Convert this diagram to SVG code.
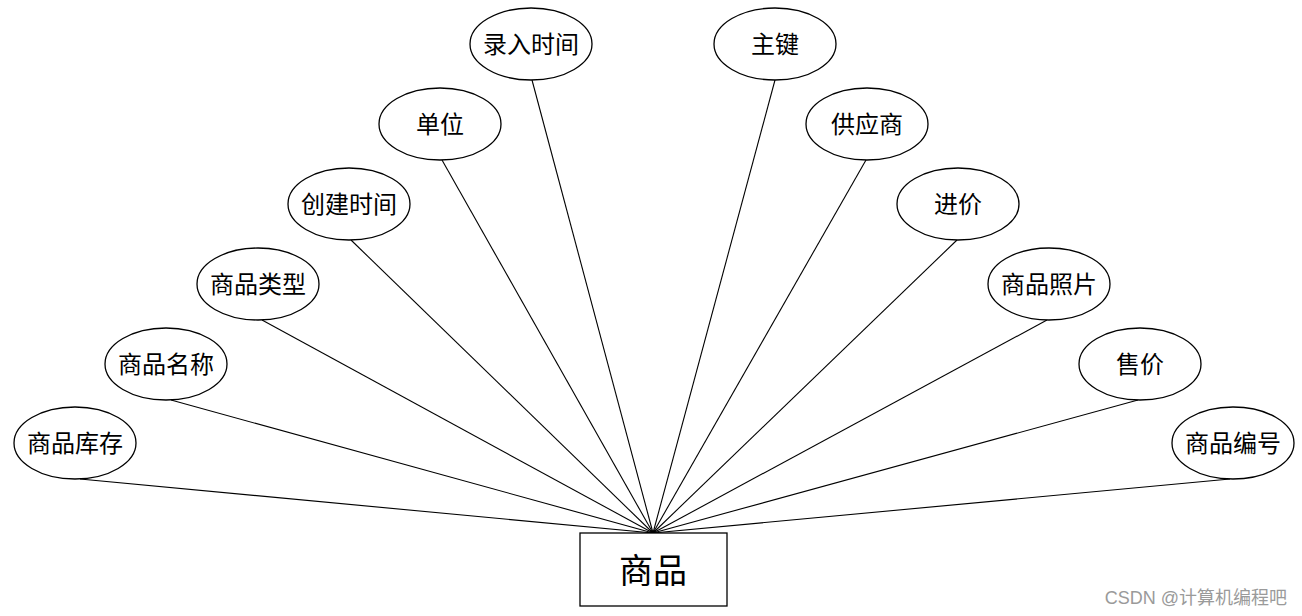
<svg xmlns="http://www.w3.org/2000/svg" width="1302" height="616" viewBox="0 0 1302 616">
<style>
.attr ellipse{fill:#fff;stroke:#000;stroke-width:1.3}
.attr text{font-family:"Liberation Sans","Noto Sans CJK SC",sans-serif;font-size:24px;fill:#000;text-anchor:middle;dominant-baseline:central}
#connectors line{stroke:#000;stroke-width:1.1}
.ent rect{fill:#fff;stroke:#000;stroke-width:1.3}
.ent text{font-family:"Liberation Sans","Noto Sans CJK SC",sans-serif;font-size:34px;fill:#000;text-anchor:middle;dominant-baseline:central}
.wm{font-family:"Liberation Sans","Noto Sans CJK SC",sans-serif;font-size:18px;fill:#9a9a9a;text-anchor:end}
</style>
<rect width="1302" height="616" fill="#fff"/>
<g id="connectors">
<line x1="80" y1="479" x2="653" y2="533"/>
<line x1="171" y1="400" x2="653" y2="533"/>
<line x1="262" y1="320" x2="653" y2="533"/>
<line x1="351" y1="240" x2="653" y2="533"/>
<line x1="442" y1="160" x2="653" y2="533"/>
<line x1="532" y1="80" x2="653" y2="533"/>
<line x1="775" y1="80" x2="653" y2="533"/>
<line x1="866" y1="160" x2="653" y2="533"/>
<line x1="957" y1="240" x2="653" y2="533"/>
<line x1="1047" y1="320" x2="653" y2="533"/>
<line x1="1138" y1="400" x2="653" y2="533"/>
<line x1="1230" y1="479" x2="653" y2="533"/>
</g>
<g id="n-kucun" class="attr"><ellipse cx="75" cy="443" rx="61" ry="36"/><text x="75" y="443">商品库存</text></g>
<g id="n-mingcheng" class="attr"><ellipse cx="166" cy="364" rx="61" ry="36"/><text x="166" y="364">商品名称</text></g>
<g id="n-leixing" class="attr"><ellipse cx="258" cy="284" rx="61" ry="36"/><text x="258" y="284">商品类型</text></g>
<g id="n-chuangjian" class="attr"><ellipse cx="349" cy="204" rx="61" ry="36"/><text x="349" y="204">创建时间</text></g>
<g id="n-danwei" class="attr"><ellipse cx="440" cy="124" rx="61" ry="36"/><text x="440" y="124">单位</text></g>
<g id="n-luru" class="attr"><ellipse cx="531" cy="44" rx="61" ry="36"/><text x="531" y="44">录入时间</text></g>
<g id="n-zhujian" class="attr"><ellipse cx="775" cy="44" rx="61" ry="36"/><text x="775" y="44">主键</text></g>
<g id="n-gongying" class="attr"><ellipse cx="867" cy="124" rx="61" ry="36"/><text x="867" y="124">供应商</text></g>
<g id="n-jinjia" class="attr"><ellipse cx="958" cy="204" rx="61" ry="36"/><text x="958" y="204">进价</text></g>
<g id="n-zhaopian" class="attr"><ellipse cx="1049" cy="284" rx="61" ry="36"/><text x="1049" y="284">商品照片</text></g>
<g id="n-shoujia" class="attr"><ellipse cx="1140" cy="364" rx="61" ry="36"/><text x="1140" y="364">售价</text></g>
<g id="n-bianhao" class="attr"><ellipse cx="1233" cy="443" rx="61" ry="36"/><text x="1233" y="443">商品编号</text></g>
<g id="n-shangpin" class="ent"><rect x="580" y="533" width="147" height="73"/><text x="653" y="571">商品</text></g>
<text class="wm" x="1287" y="604">CSDN @计算机编程吧</text>
</svg>
